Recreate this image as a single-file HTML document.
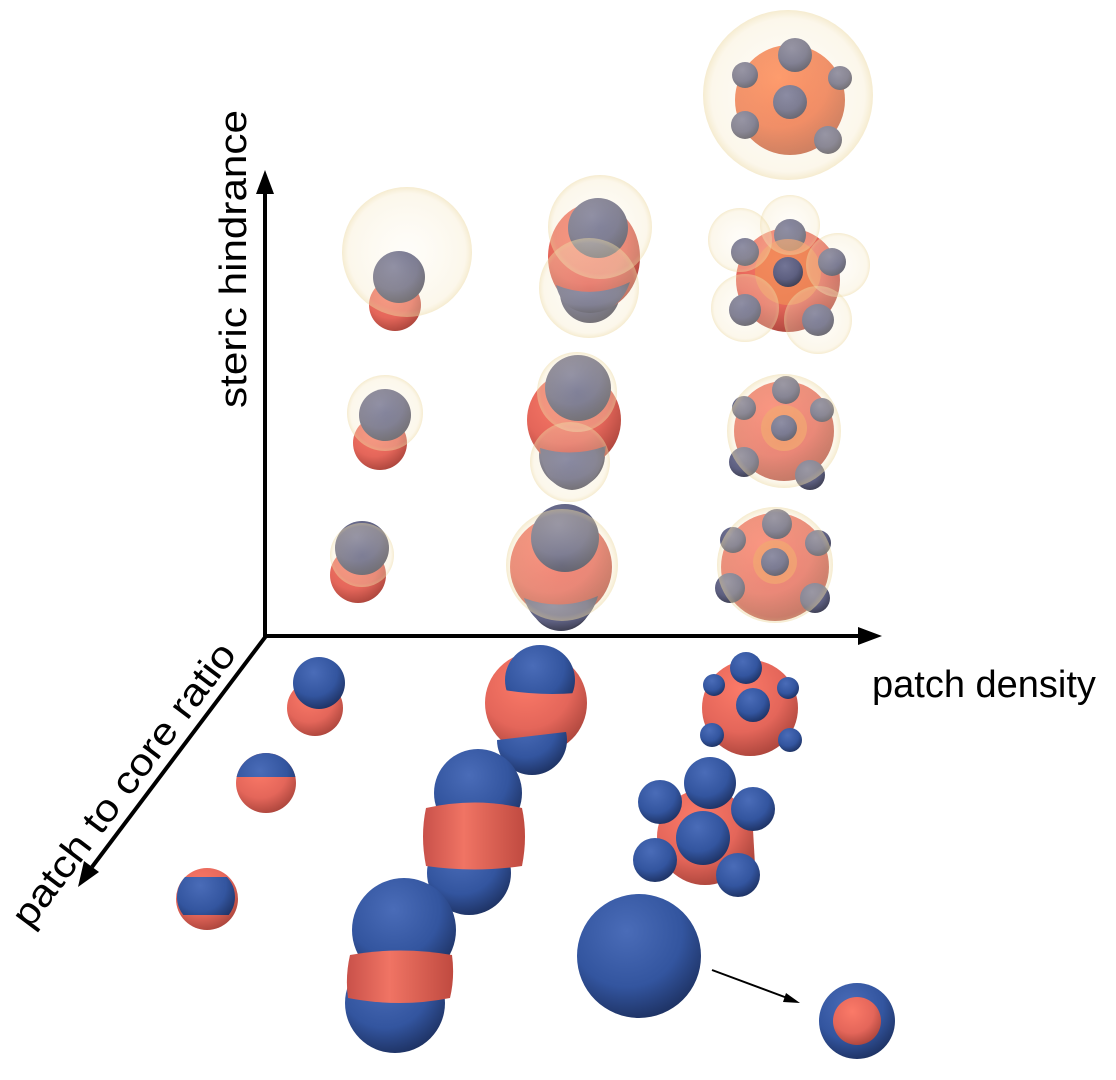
<!DOCTYPE html>
<html><head><meta charset="utf-8"><style>
html,body{margin:0;padding:0;background:#fff}
svg{display:block}
text{font-family:"Liberation Sans",sans-serif;fill:#000}
</style></head><body>
<svg width="1116" height="1080" viewBox="0 0 1116 1080" xmlns="http://www.w3.org/2000/svg">
<defs>
<radialGradient id="b" cx="0.4" cy="0.3" r="0.75"><stop offset="0" stop-color="#4a6cb8"/><stop offset="0.6" stop-color="#33559f"/><stop offset="1" stop-color="#1c2f5e"/></radialGradient>
<radialGradient id="r" cx="0.4" cy="0.3" r="0.75"><stop offset="0" stop-color="#fb7a68"/><stop offset="0.6" stop-color="#e4665a"/><stop offset="1" stop-color="#a8433a"/></radialGradient>
<linearGradient id="rb" x1="0" y1="0" x2="1" y2="0"><stop offset="0" stop-color="#c9514a"/><stop offset="0.4" stop-color="#f07464"/><stop offset="1" stop-color="#c04a40"/></linearGradient>
<radialGradient id="g" cx="0.4" cy="0.3" r="0.75"><stop offset="0" stop-color="#737596"/><stop offset="0.6" stop-color="#5d5f80"/><stop offset="1" stop-color="#3c3d50"/></radialGradient>
<radialGradient id="o" cx="0.4" cy="0.3" r="0.75"><stop offset="0" stop-color="#ff8550"/><stop offset="0.6" stop-color="#ee7045"/><stop offset="1" stop-color="#b85236"/></radialGradient>
<radialGradient id="h" cx="0.5" cy="0.5" r="0.5"><stop offset="0" stop-color="#fbf3df" stop-opacity="0.18"/><stop offset="0.9" stop-color="#f5e6c0" stop-opacity="0.32"/><stop offset="1" stop-color="#ecd8a0" stop-opacity="0.5"/></radialGradient>
<clipPath id="c2"><rect x="200" y="740" width="120" height="37"/></clipPath>
<clipPath id="c3"><rect x="160" y="877" width="100" height="38"/></clipPath>
<clipPath id="c4t"><path d="M480,600 L600,600 L600,690 Q540,700 480,685 Z"/></clipPath>
<clipPath id="c4b"><path d="M480,742 Q540,735 600,728 L600,800 L480,800 Z"/></clipPath>
</defs>

<line x1="265" y1="636" x2="265" y2="190" stroke="#000" stroke-width="4"/>
<path d="M265,170 L256,194 L274,194 z"/>
<line x1="263" y1="636" x2="862" y2="636" stroke="#000" stroke-width="4"/>
<path d="M882,636 L858,627 L858,645 z"/>
<line x1="266" y1="636" x2="92" y2="867" stroke="#000" stroke-width="4"/>
<path d="M78,887 L84,861 L99,872 z"/>

<text x="0" y="0" font-size="38" textLength="298" lengthAdjust="spacingAndGlyphs" transform="translate(246,408) rotate(-90)">steric hindrance</text>
<text x="872" y="697" font-size="38">patch density</text>
<text x="0" y="0" font-size="38" textLength="345" lengthAdjust="spacingAndGlyphs" transform="translate(30,930) rotate(-53)">patch to core ratio</text>

<circle cx="315" cy="708" r="28" fill="url(#r)"/>
<circle cx="319" cy="683" r="26" fill="url(#b)"/>

<circle cx="266" cy="783" r="30" fill="url(#r)"/>
<circle cx="266" cy="783" r="30" fill="url(#b)" clip-path="url(#c2)"/>

<circle cx="207" cy="899" r="31" fill="url(#r)"/>
<circle cx="206" cy="897" r="29" fill="url(#b)" clip-path="url(#c3)"/>

<circle cx="536" cy="703" r="51" fill="url(#r)"/>
<circle cx="540" cy="680" r="35" fill="url(#b)" clip-path="url(#c4t)"/>
<circle cx="532" cy="740" r="35" fill="url(#b)" clip-path="url(#c4b)"/>

<circle cx="469" cy="873" r="42" fill="url(#b)"/>
<circle cx="478" cy="793" r="44" fill="url(#b)"/>
<path d="M426,808 Q475,797 522,808 Q528,836 522,866 Q475,873 426,866 Q420,836 426,808 Z" fill="url(#rb)"/>

<circle cx="395" cy="1003" r="50" fill="url(#b)"/>
<circle cx="404" cy="930" r="52" fill="url(#b)"/>
<path d="M350,955 Q400,946 452,955 Q455,977 450,998 Q400,1008 348,998 Q345,977 350,955 Z" fill="url(#rb)"/>

<circle cx="750" cy="708" r="48" fill="url(#r)"/>
<circle cx="746" cy="668" r="16" fill="url(#b)"/>
<circle cx="753" cy="705" r="17" fill="url(#b)"/>
<circle cx="714" cy="685" r="11" fill="url(#b)"/>
<circle cx="788" cy="688" r="11" fill="url(#b)"/>
<circle cx="712" cy="735" r="12" fill="url(#b)"/>
<circle cx="790" cy="740" r="12" fill="url(#b)"/>

<path d="M660,815 L705,790 L752,812 L755,865 L705,885 L655,860 Z" fill="url(#r)"/>
<circle cx="705" cy="837" r="48" fill="url(#r)"/>
<circle cx="710" cy="783" r="26" fill="url(#b)"/>
<circle cx="660" cy="802" r="22" fill="url(#b)"/>
<circle cx="753" cy="809" r="22" fill="url(#b)"/>
<circle cx="655" cy="860" r="22" fill="url(#b)"/>
<circle cx="738" cy="875" r="22" fill="url(#b)"/>
<circle cx="703" cy="838" r="27" fill="url(#b)"/>

<circle cx="639" cy="956" r="62" fill="url(#b)"/>
<line x1="712" y1="970" x2="790" y2="999" stroke="#000" stroke-width="2"/>
<path d="M800,1003 L786,993 L783,1002 z"/>
<circle cx="857" cy="1021" r="38" fill="url(#b)"/>
<circle cx="857" cy="1021" r="24" fill="url(#r)"/>

<circle cx="358" cy="575" r="28" fill="url(#r)"/>
<circle cx="362" cy="548" r="27" fill="url(#g)"/>
<circle cx="362" cy="555" r="32" fill="url(#h)"/>

<circle cx="561" cy="600" r="31" fill="url(#g)"/>
<circle cx="561" cy="567" r="51" fill="url(#r)"/>
<path d="M524,598 Q560,612 598,596 Q590,625 561,630 Q532,625 524,598 Z" fill="url(#g)"/>
<circle cx="565" cy="538" r="34" fill="url(#g)"/>
<circle cx="562" cy="565" r="56" fill="url(#h)"/>

<circle cx="775" cy="567" r="54" fill="url(#r)"/>
<circle cx="777" cy="524" r="15" fill="url(#g)"/>
<circle cx="775" cy="562" r="22" fill="#ef9055" opacity="0.8"/>
<circle cx="775" cy="562" r="14" fill="url(#g)"/>
<circle cx="733" cy="540" r="13" fill="url(#g)"/>
<circle cx="818" cy="543" r="13" fill="url(#g)"/>
<circle cx="730" cy="588" r="15" fill="url(#g)"/>
<circle cx="815" cy="598" r="15" fill="url(#g)"/>
<circle cx="775" cy="565" r="58" fill="url(#h)"/>

<circle cx="380" cy="443" r="27" fill="url(#r)"/>
<circle cx="385" cy="415" r="26" fill="url(#g)"/>
<circle cx="385" cy="413" r="38" fill="url(#h)"/>

<circle cx="572" cy="455" r="33" fill="url(#g)"/>
<ellipse cx="574" cy="420" rx="47" ry="48" fill="url(#r)"/>
<path d="M540,448 Q572,458 606,446 Q600,488 572,490 Q544,488 540,448 Z" fill="url(#g)"/>
<circle cx="578" cy="388" r="33" fill="url(#g)"/>
<circle cx="577" cy="392" r="40" fill="url(#h)"/>
<circle cx="570" cy="462" r="40" fill="url(#h)"/>

<circle cx="784" cy="431" r="50" fill="url(#r)"/>
<circle cx="786" cy="390" r="14" fill="url(#g)"/>
<circle cx="784" cy="428" r="23" fill="#ef9055" opacity="0.8"/>
<circle cx="784" cy="428" r="13" fill="url(#g)"/>
<circle cx="744" cy="408" r="12" fill="url(#g)"/>
<circle cx="822" cy="410" r="12" fill="url(#g)"/>
<circle cx="744" cy="462" r="15" fill="url(#g)"/>
<circle cx="810" cy="475" r="15" fill="url(#g)"/>
<circle cx="784" cy="431" r="57" fill="url(#h)"/>

<circle cx="395" cy="305" r="26" fill="url(#r)"/>
<circle cx="399" cy="277" r="26" fill="url(#g)"/>
<circle cx="407" cy="252" r="65" fill="url(#h)"/>

<circle cx="590" cy="293" r="30" fill="url(#g)"/>
<ellipse cx="594" cy="257" rx="46" ry="54" fill="url(#r)"/>
<path d="M556,285 Q592,300 630,282 Q620,312 590,313 Q562,312 556,285 Z" fill="url(#g)"/>
<circle cx="598" cy="228" r="30" fill="url(#g)"/>
<circle cx="600" cy="227" r="52" fill="url(#h)"/>
<circle cx="589" cy="288" r="50" fill="url(#h)"/>

<circle cx="788" cy="280" r="52" fill="url(#r)"/>
<circle cx="790" cy="235" r="16" fill="url(#g)"/>
<circle cx="788" cy="272" r="33" fill="#ef9055" opacity="0.7"/>
<circle cx="788" cy="272" r="15" fill="url(#g)"/>
<circle cx="745" cy="252" r="14" fill="url(#g)"/>
<circle cx="832" cy="262" r="14" fill="url(#g)"/>
<circle cx="745" cy="310" r="16" fill="url(#g)"/>
<circle cx="818" cy="320" r="16" fill="url(#g)"/>
<circle cx="790" cy="225" r="30" fill="url(#h)"/>
<circle cx="740" cy="240" r="32" fill="url(#h)"/>
<circle cx="838" cy="265" r="32" fill="url(#h)"/>
<circle cx="745" cy="308" r="34" fill="url(#h)"/>
<circle cx="818" cy="320" r="34" fill="url(#h)"/>

<circle cx="790" cy="100" r="55" fill="url(#o)"/>
<circle cx="795" cy="55" r="17" fill="url(#g)"/>
<circle cx="790" cy="102" r="17" fill="url(#g)"/>
<circle cx="745" cy="75" r="13" fill="url(#g)"/>
<circle cx="840" cy="78" r="12" fill="url(#g)"/>
<circle cx="745" cy="125" r="14" fill="url(#g)"/>
<circle cx="828" cy="140" r="14" fill="url(#g)"/>
<circle cx="788" cy="95" r="85" fill="url(#h)"/>
</svg>
</body></html>
